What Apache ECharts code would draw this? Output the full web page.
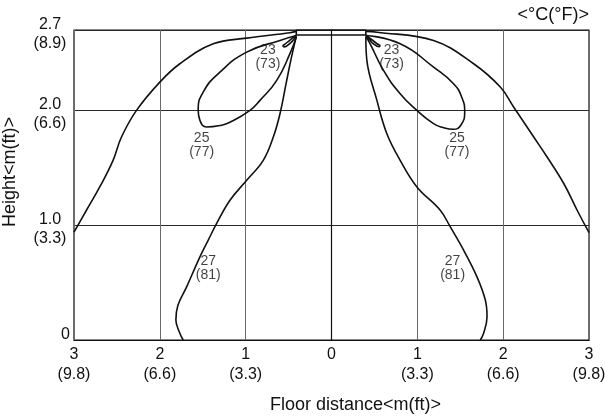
<!DOCTYPE html>
<html>
<head>
<meta charset="utf-8">
<title>Temperature distribution</title>
<script src="https://cdn.jsdelivr.net/npm/echarts@6/dist/echarts.min.js"></script>
<style>
  html, body { margin: 0; padding: 0; background: #fff; }
  #chart { width: 605px; height: 419px; }
</style>
</head>
<body>
<div id="chart"></div>
<script>
// axis ticks
const xTicks = [-3, -2, -1, 0, 1, 2, 3]
const xTickLabels = ['3\n(9.8)', '2\n(6.6)', '1\n(3.3)', '0', '1\n(3.3)', '2\n(6.6)', '3\n(9.8)']
const yTicks = [0, 1, 2, 2.7]
const yTickLabels = ['0', '1.0\n(3.3)', '2.0\n(6.6)', '2.7\n(8.9)']

// ceiling unit outline [floor distance m, height m]
const unitOutline = [[-0.41, 2.657], [0.40, 2.657], [0.40, 2.7], [-0.41, 2.7], [-0.41, 2.657]]

// outermost line (left / right)
const outerLeft = [
  [-0.41, 2.688], [-0.483, 2.676], [-0.988, 2.629], [-1.378, 2.58], [-1.767, 2.406],
  [-2.0, 2.246], [-2.272, 2.0], [-2.447, 1.768], [-2.545, 1.565], [-2.7, 1.333],
  [-2.855, 1.13], [-3.0, 0.94]
]
const outerRight = [
  [0.40, 2.688], [0.529, 2.681], [1.189, 2.609], [1.656, 2.406], [1.967, 2.203],
  [2.122, 2.029], [2.356, 1.768], [2.512, 1.594], [2.706, 1.363], [2.862, 1.13],
  [3.0, 0.935]
]

// 23 (73) small loops
const loop23Left = [
  [-0.41, 2.655], [-0.48, 2.615], [-0.54, 2.578], [-0.565, 2.562], [-0.552, 2.553],
  [-0.49, 2.58], [-0.43, 2.626], [-0.41, 2.648]
]
const loop23Right = [
  [0.40, 2.655], [0.47, 2.615], [0.535, 2.578], [0.565, 2.564], [0.555, 2.554],
  [0.49, 2.579], [0.43, 2.625], [0.40, 2.648]
]

// 25 (77) loops
const loop25Left = [
  [-0.41, 2.652], [-0.6, 2.609], [-0.988, 2.507], [-1.3, 2.333], [-1.495, 2.159],
  [-1.553, 2.0], [-1.533, 1.913], [-1.455, 1.855], [-1.3, 1.868], [-1.183, 1.896],
  [-0.95, 2.0], [-0.833, 2.087], [-0.638, 2.261], [-0.483, 2.496], [-0.41, 2.64]
]
const loop25Right = [
  [0.40, 2.652], [0.8, 2.58], [1.189, 2.377], [1.422, 2.232], [1.52, 2.11],
  [1.552, 1.985], [1.51, 1.875], [1.42, 1.835], [1.30, 1.85], [1.189, 1.884],
  [0.995, 2.0], [0.8, 2.145], [0.606, 2.348], [0.45, 2.58], [0.40, 2.64]
]

// 27 (81) lines
const line27Left = [
  [-0.41, 2.645], [-0.47, 2.45], [-0.53, 2.23], [-0.6, 1.971], [-0.678, 1.768],
  [-0.795, 1.565], [-0.988, 1.391], [-1.183, 1.217], [-1.338, 1.015], [-1.436, 0.87],
  [-1.533, 0.724], [-1.688, 0.463], [-1.79, 0.3], [-1.813, 0.174], [-1.767, 0.058],
  [-1.728, 0]
]
const line27Right = [
  [0.40, 2.643], [0.412, 2.435], [0.529, 2.087], [0.645, 1.797], [0.8, 1.565],
  [0.995, 1.333], [1.267, 1.13], [1.384, 0.985], [1.539, 0.783], [1.695, 0.55],
  [1.792, 0.348], [1.812, 0.203], [1.772, 0.058], [1.734, 0]
]

// temperature labels
const labelPoints = [
  [-0.741, 2.461], [0.70, 2.461], [-1.513, 1.70], [1.462, 1.70], [-1.436, 0.623], [1.411, 0.623]
]
const labelTexts = ['23\n(73)', '23\n(73)', '25\n(77)', '25\n(77)', '27\n(81)', '27\n(81)']

const FONT = 'Liberation Sans, Arial, Helvetica, sans-serif'
const INK = '#111'

const chart = echarts.init(document.getElementById('chart'), null, { renderer: 'canvas' })

const curve = (data, smooth) => ({
  type: 'line',
  data: data,
  smooth: smooth,
  showSymbol: false,
  symbol: 'none',
  silent: true,
  lineStyle: { color: INK, width: 1.6 },
  z: 3
})

chart.setOption({
  animation: false,
  backgroundColor: '#fff',
  title: {
    text: '<°C(°F)>',
    right: 16,
    top: 6,
    padding: 0,
    textStyle: { fontFamily: FONT, fontSize: 18, fontWeight: 'normal', color: INK }
  },
  grid: {
    left: 74,
    right: 16,
    top: 30,
    bottom: 79,
    outerBoundsMode: 'none',
    containLabel: false,
    show: true,
    borderColor: INK,
    borderWidth: 1.2
  },
  xAxis: {
    type: 'value',
    min: -3,
    max: 3,
    interval: 1,
    name: 'Floor distance<m(ft)>',
    nameLocation: 'middle',
    nameGap: 56,
    nameTextStyle: { fontFamily: FONT, fontSize: 18, color: INK, padding: [0, 0, 0, 48] },
    axisLine: { lineStyle: { color: INK, width: 1.2 } },
    axisTick: { show: false },
    splitLine: { show: true, lineStyle: { color: '#6a6a6a', width: 1 } },
    axisLabel: {
      margin: 5,
      fontFamily: FONT,
      fontSize: 16,
      lineHeight: 20,
      color: INK,
      formatter: (v) => xTickLabels[xTicks.indexOf(Math.round(v))]
    }
  },
  yAxis: {
    type: 'value',
    min: 0,
    max: 2.7,
    interval: 1,
    name: 'Height<m(ft)>',
    nameLocation: 'middle',
    nameGap: 46,
    nameTextStyle: { fontFamily: FONT, fontSize: 18, color: INK, padding: [0, 0, 0, 26] },
    axisLine: { lineStyle: { color: INK, width: 1.2 } },
    axisTick: { show: false },
    splitLine: { show: true, lineStyle: { color: '#2a2a2a', width: 1 } },
    axisLabel: {
      margin: 4,
      padding: [8, 0, 0, 0],
      customValues: yTicks,
      color: INK,
      formatter: (v) => {
        const i = yTicks.findIndex((t) => Math.abs(t - v) < 1e-6)
        const txt = yTickLabels[i]
        // single-line label keeps an empty second line so it sits like the others
        if (txt.indexOf('\n') < 0) return '{b|' + txt + '}\n{b| }'
        return txt.split('\n').map((s) => '{a|' + s + '}').join('\n')
      },
      rich: {
        a: { fontFamily: FONT, fontSize: 16, lineHeight: 19, width: 40, align: 'center', color: INK },
        b: { fontFamily: FONT, fontSize: 16, lineHeight: 19, width: 40, align: 'right', color: INK }
      }
    }
  },
  series: [
    curve(unitOutline, false),
    curve(outerLeft, 0.4),
    curve(outerRight, 0.4),
    curve(loop23Left, 0.5),
    curve(loop23Right, 0.5),
    curve(loop25Left, 0.5),
    curve(loop25Right, 0.5),
    curve(line27Left, 0.4),
    curve(line27Right, 0.4),
    {
      type: 'scatter',
      data: labelPoints.map((p, i) => ({ value: p, name: labelTexts[i] })),
      symbolSize: 0,
      silent: true,
      z: 4,
      label: {
        show: true,
        position: 'inside',
        formatter: (p) => p.name,
        fontFamily: FONT,
        fontSize: 14,
        lineHeight: 14,
        color: INK
      }
    }
  ]
})
</script>
</body>
</html>
